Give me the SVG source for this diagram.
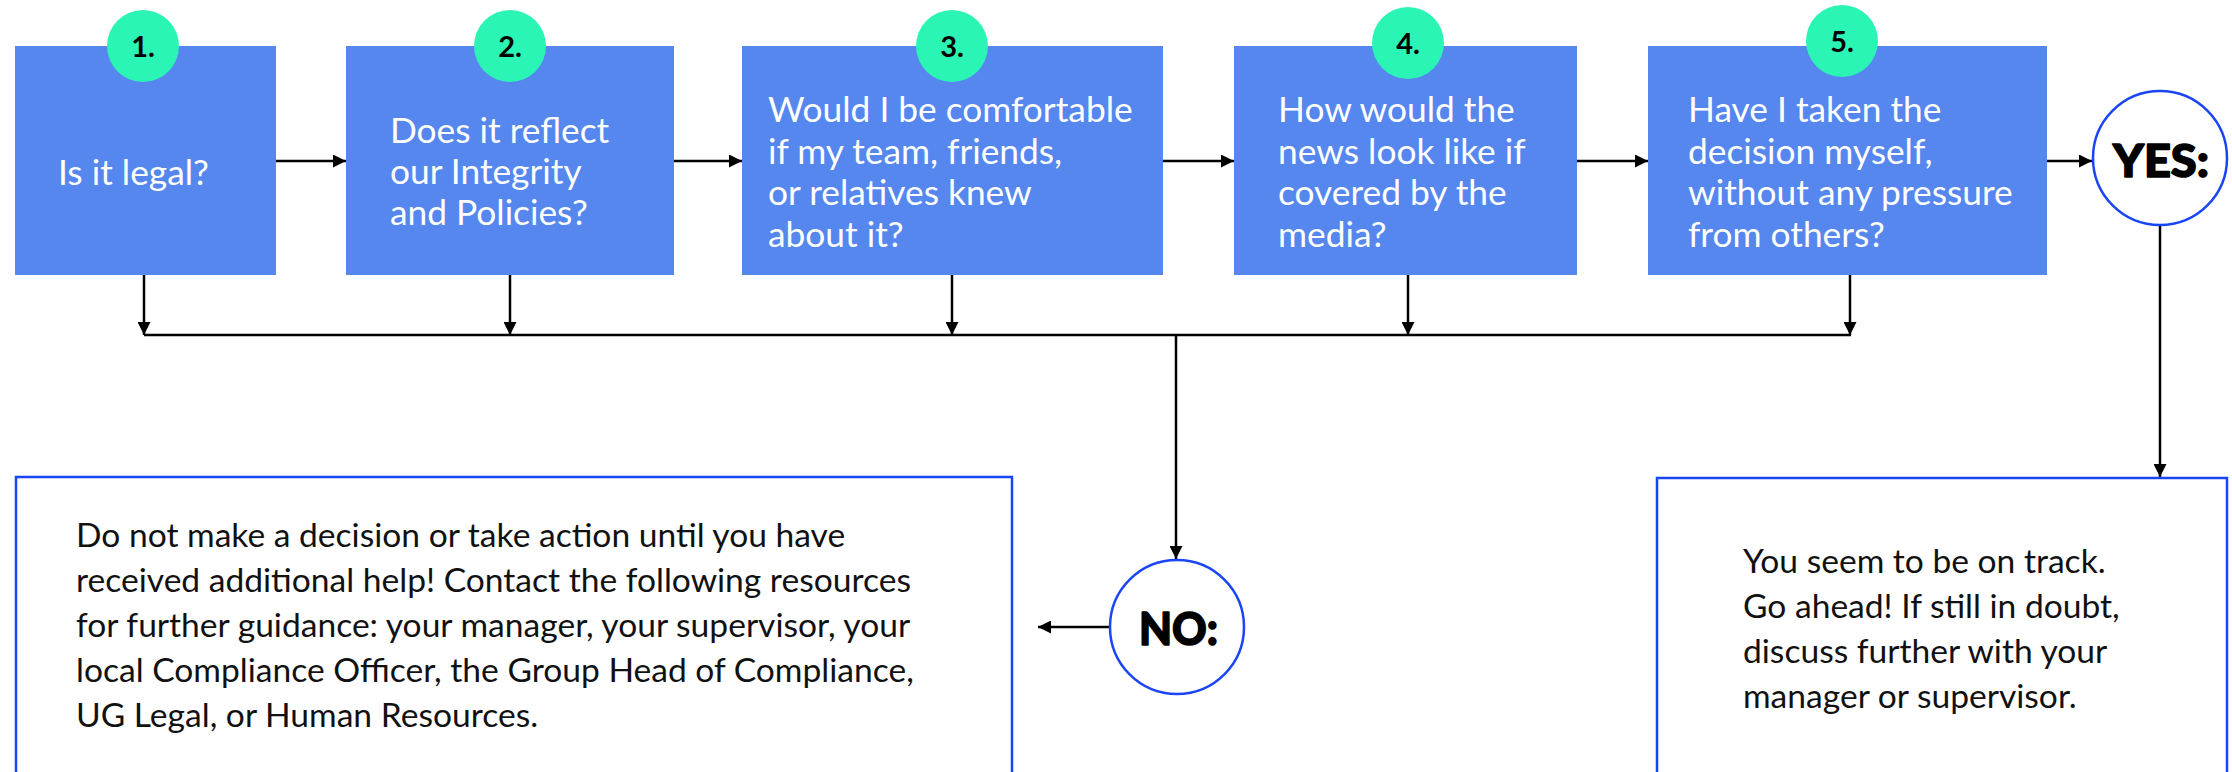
<svg xmlns="http://www.w3.org/2000/svg" width="2232" height="772" viewBox="0 0 2232 772">
  <defs>
    <marker id="ah" viewBox="0 0 10 10" refX="10" refY="5" markerWidth="13" markerHeight="13" markerUnits="userSpaceOnUse" orient="auto">
      <path d="M0,0 L10,5 L0,10 Z" fill="#000"/>
    </marker>
    <style>
      .box { fill: #5587EF; }
      .badge { fill: #2BF5B5; }
      .num { font-family: Lato, "Liberation Sans", sans-serif; font-size: 29px; font-weight: 700; fill: #000; text-anchor: middle; }
      .q { font-family: Lato, "Liberation Sans", sans-serif; font-size: 35.3px; fill: #fff; }
      .body { font-family: Lato, "Liberation Sans", sans-serif; font-size: 33.6px; fill: #111; }
      .ring { fill: #fff; stroke: #1A45F5; stroke-width: 2.5; }
      .ans { font-family: Lato, "Liberation Sans", sans-serif; font-size: 46px; font-weight: 900; fill: #000; stroke: #000; stroke-width: 1.6; stroke-linejoin: round; }
      .outbox { fill: #fff; stroke: #1A45F5; stroke-width: 2.5; }
      .conn { stroke: #000; stroke-width: 2.5; fill: none; }
    </style>
  </defs>
  <rect width="2232" height="772" fill="#fff"/>

  <g id="connectors">
    <line class="conn" x1="276" y1="161" x2="346" y2="161" marker-end="url(#ah)"/>
    <line class="conn" x1="674" y1="161" x2="742" y2="161" marker-end="url(#ah)"/>
    <line class="conn" x1="1163" y1="161" x2="1234" y2="161" marker-end="url(#ah)"/>
    <line class="conn" x1="1577" y1="161" x2="1648" y2="161" marker-end="url(#ah)"/>
    <line class="conn" x1="2047" y1="161" x2="2092" y2="161" marker-end="url(#ah)"/>
    <line class="conn" x1="144" y1="275" x2="144" y2="335" marker-end="url(#ah)"/>
    <line class="conn" x1="510" y1="275" x2="510" y2="335" marker-end="url(#ah)"/>
    <line class="conn" x1="952" y1="275" x2="952" y2="335" marker-end="url(#ah)"/>
    <line class="conn" x1="1408" y1="275" x2="1408" y2="335" marker-end="url(#ah)"/>
    <line class="conn" x1="1850" y1="275" x2="1850" y2="335" marker-end="url(#ah)"/>
    <line class="conn" x1="144" y1="335" x2="1851" y2="335"/>
    <line class="conn" x1="1176" y1="335" x2="1176" y2="559" marker-end="url(#ah)"/>
    <line class="conn" x1="1110" y1="627" x2="1038" y2="627" marker-end="url(#ah)"/>
    <line class="conn" x1="2160" y1="226" x2="2160" y2="477" marker-end="url(#ah)"/>
  </g>

  <g id="step1">
    <rect class="box" x="15" y="46" width="261" height="229"/>
    <circle class="badge" cx="143" cy="46" r="36"/>
    <text class="num" x="143" y="57">1.</text>
    <text class="q" x="58" y="185">Is it legal?</text>
  </g>
  <g id="step2">
    <rect class="box" x="346" y="46" width="328" height="229"/>
    <circle class="badge" cx="510" cy="46" r="36"/>
    <text class="num" x="510" y="57">2.</text>
    <text class="q" x="390" y="143">Does it reflect</text>
    <text class="q" x="390" y="184">our Integrity</text>
    <text class="q" x="390" y="225">and Policies?</text>
  </g>
  <g id="step3">
    <rect class="box" x="742" y="46" width="421" height="229"/>
    <circle class="badge" cx="952" cy="46" r="36"/>
    <text class="num" x="952" y="57">3.</text>
    <text class="q" x="768" y="122">Would I be comfortable</text>
    <text class="q" x="768" y="164">if my team, friends,</text>
    <text class="q" x="768" y="205">or relatives knew</text>
    <text class="q" x="768" y="247">about it?</text>
  </g>
  <g id="step4">
    <rect class="box" x="1234" y="46" width="343" height="229"/>
    <circle class="badge" cx="1408" cy="43" r="36"/>
    <text class="num" x="1408" y="54">4.</text>
    <text class="q" x="1278" y="122">How would the</text>
    <text class="q" x="1278" y="164">news look like if</text>
    <text class="q" x="1278" y="205">covered by the</text>
    <text class="q" x="1278" y="247">media?</text>
  </g>
  <g id="step5">
    <rect class="box" x="1648" y="46" width="399" height="229"/>
    <circle class="badge" cx="1842" cy="41" r="36"/>
    <text class="num" x="1842" y="52">5.</text>
    <text class="q" x="1688" y="122">Have I taken the</text>
    <text class="q" x="1688" y="164">decision myself,</text>
    <text class="q" x="1688" y="205">without any pressure</text>
    <text class="q" x="1688" y="247">from others?</text>
  </g>

  <g id="yes">
    <circle class="ring" cx="2160" cy="158" r="67"/>
    <text class="ans" x="2113" y="177" textLength="96" lengthAdjust="spacingAndGlyphs">YES:</text>
  </g>
  <g id="no">
    <circle class="ring" cx="1177" cy="627" r="67"/>
    <text class="ans" x="1139" y="645" textLength="79" lengthAdjust="spacingAndGlyphs">NO:</text>
  </g>

  <g id="no-result">
    <rect class="outbox" x="16" y="477" width="996" height="320"/>
    <text class="body" x="76" y="547">Do not make a decision or take action until you have</text>
    <text class="body" x="76" y="592">received additional help! Contact the following resources</text>
    <text class="body" x="76" y="637">for further guidance: your manager, your supervisor, your</text>
    <text class="body" x="76" y="682">local Compliance Officer, the Group Head of Compliance,</text>
    <text class="body" x="76" y="727">UG Legal, or Human Resources.</text>
  </g>
  <g id="yes-result">
    <rect class="outbox" x="1657" y="478" width="570" height="320"/>
    <text class="body" x="1743" y="573">You seem to be on track.</text>
    <text class="body" x="1743" y="618">Go ahead! If still in doubt,</text>
    <text class="body" x="1743" y="663">discuss further with your</text>
    <text class="body" x="1743" y="708">manager or supervisor.</text>
  </g>
</svg>
